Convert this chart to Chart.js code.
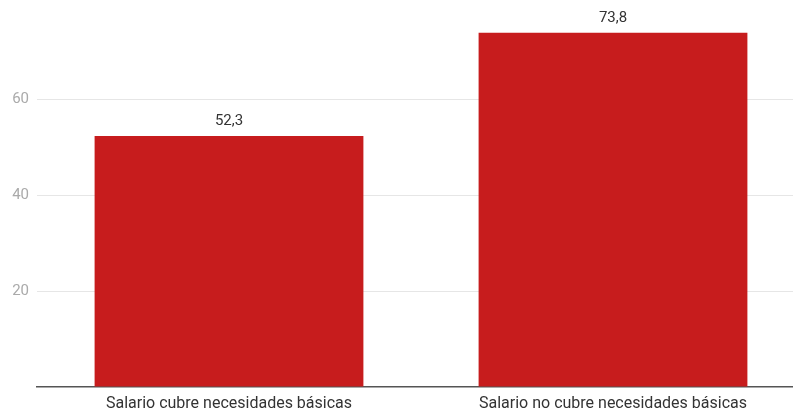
<!DOCTYPE html>
<html>
<head>
<meta charset="utf-8">
<script src="https://cdn.jsdelivr.net/npm/chart.js@4/dist/chart.umd.min.js"></script>
<style>
  html, body { margin: 0; padding: 0; background: #fff; overflow: hidden; }
  #wrap { width: 805px; height: 412px; position: relative; }
</style>
</head>
<body>
<div id="wrap"><canvas id="chart"></canvas></div>
<script>
const categories = ['Salario cubre necesidades básicas', 'Salario no cubre necesidades básicas'];
const values = [52.3, 73.8];
const yTicks = [20, 40, 60];

const barColor = '#c71c1d';

// value labels above each bar, decimal comma
const valueLabels = {
    id: 'valueLabels',
    afterDatasetsDraw(chart) {
        const ctx = chart.ctx;
        const meta = chart.getDatasetMeta(0);
        ctx.save();
        ctx.font = '15px Roboto';
        ctx.fillStyle = '#333';
        ctx.textAlign = 'center';
        ctx.textBaseline = 'alphabetic';
        meta.data.forEach((bar, i) => {
            ctx.fillText(values[i].toFixed(1).replace('.', ','), bar.x, bar.y - 11);
        });
        ctx.restore();
    }
};

new Chart(document.getElementById('chart'), {
    type: 'bar',
    data: {
        labels: categories,
        datasets: [{
            data: values,
            backgroundColor: barColor,
            barPercentage: 0.7,
            categoryPercentage: 1
        }]
    },
    options: {
        responsive: true,
        maintainAspectRatio: false,
        animation: false,
        layout: { padding: { top: 3, left: 0, right: 0, bottom: 0 } },
        plugins: {
            legend: { display: false },
            tooltip: { enabled: false }
        },
        scales: {
            x: {
                grid: { display: false, drawTicks: false },
                border: { display: true, color: '#555', width: 1.5 },
                ticks: {
                    color: '#333',
                    font: { family: 'Roboto', size: 16 },
                    padding: 7,
                    maxRotation: 0
                },
                afterFit(scale) {
                    scale.height = 25;
                    scale.paddingLeft = 0;
                    scale.paddingRight = 0;
                }
            },
            y: {
                min: 0,
                max: 80,
                border: { display: false },
                grid: {
                    color: ctx => yTicks.includes(ctx.tick.value) ? '#e6e6e6' : 'rgba(0,0,0,0)',
                    drawTicks: false,
                    lineWidth: 1
                },
                afterBuildTicks(scale) {
                    scale.ticks = [0].concat(yTicks).concat([80]).map(v => ({ value: v }));
                },
                ticks: {
                    color: '#aaa',
                    font: { family: 'Roboto', size: 15 },
                    padding: 8,
                    callback: v => yTicks.includes(v) ? v : ''
                },
                afterFit(scale) {
                    scale.width = 37;
                    scale.paddingTop = 0;
                    scale.paddingBottom = 0;
                }
            }
        }
    },
    plugins: [valueLabels]
});
</script>
</body>
</html>
